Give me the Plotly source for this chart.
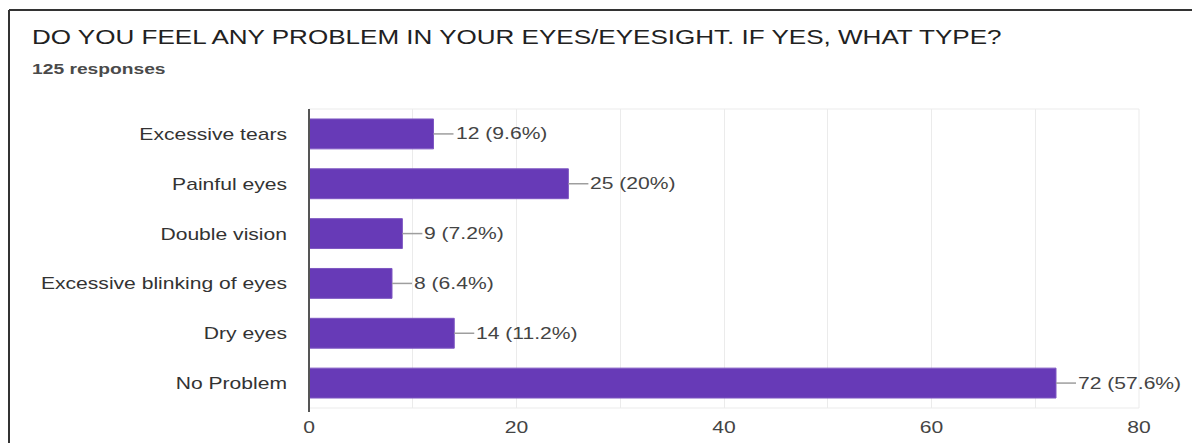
import plotly.graph_objects as go

# Survey responses
categories = [
    "Excessive tears",
    "Painful eyes",
    "Double vision",
    "Excessive blinking of eyes",
    "Dry eyes",
    "No Problem",
]
counts = [12, 25, 9, 8, 14, 72]
percents = ["9.6%", "20%", "7.2%", "6.4%", "11.2%", "57.6%"]
total_responses = 125
tick_values = [0, 20, 40, 60, 80]

W, H = 1192, 443
L, R, T, B = 309, 53, 109, 35
PW, PH = W - L - R, H - T - B

def px_x(px):
    return (px - L) / PW

def px_y(py):
    return (H - B - py) / PH

FONT = "Liberation Sans, Arial, sans-serif"
PURPLE = "#673ab7"

fig = go.Figure(
    go.Bar(
        x=counts,
        y=categories,
        orientation="h",
        marker=dict(color=PURPLE, line=dict(color="#7e57c2", width=1)),
        hoverinfo="skip",
    )
)

shapes = []
annotations = []

# Value labels with short leader lines
for cat, n, p in zip(categories, counts, percents):
    shapes.append(dict(
        type="line", xref="x", yref="y", xsizemode="pixel", xanchor=n,
        x0=0, x1=20, y0=cat, y1=cat,
        line=dict(color="#9e9e9e", width=1.5),
    ))
    annotations.append(dict(
        x=n, y=cat, xref="x", yref="y", xanchor="left", yanchor="middle",
        xshift=20, text=f"{n} ({p})", showarrow=False, align="left",
        font=dict(family=FONT, size=17, color="#444444"),
    ))

# Light frame around the plotting area
shapes.append(dict(
    type="rect", xref="paper", yref="paper", x0=0, x1=1, y0=0, y1=1,
    line=dict(color="#ebebeb", width=1), layer="below",
))
# Dark baseline axis at zero
shapes.append(dict(
    type="line", xref="paper", yref="paper", x0=0, x1=0,
    y0=px_y(412), y1=1, line=dict(color="#555555", width=2),
))
# Outer card border (top and left edges)
shapes.append(dict(
    type="line", xref="paper", yref="paper",
    x0=px_x(9), x1=px_x(W + 5), y0=px_y(10), y1=px_y(10),
    line=dict(color="#333333", width=2),
))
shapes.append(dict(
    type="line", xref="paper", yref="paper",
    x0=px_x(9), x1=px_x(9), y0=px_y(10), y1=px_y(H + 5),
    line=dict(color="#333333", width=2),
))

annotations.append(dict(
    x=px_x(30), y=px_y(37), xref="paper", yref="paper",
    xanchor="left", yanchor="middle", showarrow=False, align="left",
    text="DO YOU FEEL ANY PROBLEM IN YOUR EYES/EYESIGHT. IF YES, WHAT TYPE?",
    font=dict(family=FONT, size=21, color="#212121"),
))
annotations.append(dict(
    x=px_x(30), y=px_y(68), xref="paper", yref="paper",
    xanchor="left", yanchor="middle", showarrow=False, align="left",
    text=f"{total_responses} responses",
    font=dict(family=FONT, size=15.5, color="#4a4a4a", weight="bold"),
))

fig.update_layout(
    width=W, height=H,
    margin=dict(l=L, r=R, t=T, b=B),
    paper_bgcolor="white", plot_bgcolor="white",
    bargap=0.4, showlegend=False,
    shapes=shapes, annotations=annotations,
    xaxis=dict(
        range=[0, 80], tickvals=tick_values, showgrid=True,
        gridcolor="#ebebeb", gridwidth=1, zeroline=False,
        minor=dict(dtick=10, showgrid=True, gridcolor="#ebebeb", gridwidth=1),
        tickfont=dict(family=FONT, size=17, color="#444444"),
        ticks="", ticklabelstandoff=7, fixedrange=True, automargin=False,
    ),
    yaxis=dict(
        autorange="reversed", showgrid=False, zeroline=False,
        tickfont=dict(family=FONT, size=17, color="#333333"),
        ticks="", ticklabelstandoff=21, fixedrange=True, automargin=False,
    ),
)

# Horizontally widen every text run (glyphs included) around its anchor
post_js = """
var gd = document.getElementById('{plot_id}');
gd.querySelectorAll('svg text').forEach(function (t) {
  var w = t.getComputedTextLength();
  if (w > 0) {
    t.setAttribute('textLength', (w * 1.24).toFixed(2));
    t.setAttribute('lengthAdjust', 'spacingAndGlyphs');
  }
});
"""

fig.write_html("out.html", config={"displayModeBar": False}, post_script=post_js)
